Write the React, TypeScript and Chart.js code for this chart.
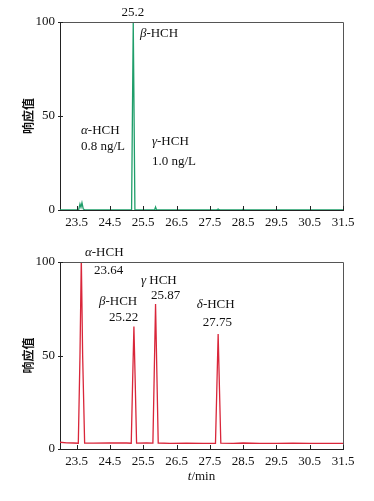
import React, { useEffect, useRef } from "react";
import { Chart, registerables } from "chart.js";

Chart.register(...registerables);

// ---- data ----
const xTickValues = [23.5, 24.5, 25.5, 26.5, 27.5, 28.5, 29.5, 30.5, 31.5];
const yTickValues = [0, 50, 100];
const xMin = 23.0;
const xMax = 31.5;

// Top chromatogram (green)
const topTimes = [23.0, 23.5, 23.56, 23.6, 23.63, 23.66, 23.7, 23.76, 25.1, 25.15, 25.2, 25.25, 25.31, 25.8, 25.84, 25.87, 25.9, 25.95, 27.7, 27.75, 27.8, 28.45, 28.5, 28.55, 31.5];
const topValues = [0, 0, 0, 3.2, 1.5, 3.8, 0.5, 0, 0, 0, 100, 0, 0, 0, 0, 1.6, 0, 0, 0, 0.5, 0, 0, 0.4, 0, 0];

// Bottom chromatogram (red)
const bottomTimes = [23.0, 23.2, 23.4, 23.55, 23.6, 23.64, 23.68, 23.74, 24.0, 24.5, 25.0, 25.14, 25.18, 25.22, 25.26, 25.3, 25.6, 25.79, 25.83, 25.87, 25.91, 25.95, 26.3, 26.8, 27.3, 27.67, 27.71, 27.75, 27.79, 27.83, 28.2, 28.5, 29.0, 29.5, 30.0, 30.5, 31.0, 31.5];
const bottomValues = [3.6, 3.3, 3.2, 3.1, 50, 102, 50, 3.2, 3.1, 3.3, 3.2, 3.1, 35, 65.5, 35, 3.1, 3.2, 3.1, 40, 77.5, 40, 3.2, 3.0, 3.1, 3.0, 3.0, 32, 61.5, 32, 3.1, 3.0, 3.2, 3.0, 3.0, 3.1, 3.0, 3.0, 3.0];

// ---- annotations (segments: [text, italic]) ----
type Seg = [string, boolean];
type Note = { segs: Seg[]; x: number; y: number; align: "left" | "center" };

const topNotes: Note[] = [
  { segs: [["25.2", false]], x: 25.19, y: 104.8, align: "center" },
  { segs: [["β", true], ["-HCH", false]], x: 25.4, y: 94.1, align: "left" },
  { segs: [["α", true], ["-HCH", false]], x: 23.63, y: 42, align: "left" },
  { segs: [["0.8 ng/L", false]], x: 23.63, y: 33.5, align: "left" },
  { segs: [["γ", true], ["-HCH", false]], x: 25.76, y: 36.2, align: "left" },
  { segs: [["1.0 ng/L", false]], x: 25.76, y: 25.5, align: "left" },
];

const bottomNotes: Note[] = [
  { segs: [["α", true], ["-HCH", false]], x: 23.75, y: 104.8, align: "left" },
  { segs: [["23.64", false]], x: 24.02, y: 95.6, align: "left" },
  { segs: [["β", true], ["-HCH", false]], x: 24.17, y: 78.7, align: "left" },
  { segs: [["25.22", false]], x: 24.47, y: 70.5, align: "left" },
  { segs: [["γ", true], [" HCH", false]], x: 25.43, y: 90.3, align: "left" },
  { segs: [["25.87", false]], x: 25.73, y: 82.3, align: "left" },
  { segs: [["δ", true], ["-HCH", false]], x: 27.11, y: 77, align: "left" },
  { segs: [["27.75", false]], x: 27.29, y: 67.5, align: "left" },
];

const SERIF = '"Liberation Serif", "Times New Roman", serif';
const CJK = '"Noto Sans CJK SC", sans-serif';

function makeChart(
  canvas: HTMLCanvasElement,
  times: number[],
  values: number[],
  color: string,
  notes: Note[],
  pad: { top: number; right: number },
  leftW: number,
  bottomH: number,
  showXTitle: boolean
) {
  const overlay = {
    id: "overlay",
    afterDraw(chart: any) {
      const ctx = chart.ctx as CanvasRenderingContext2D;
      const { left, right, top, bottom } = chart.chartArea;
      const xs = chart.scales.x;
      const ys = chart.scales.y;
      ctx.save();
      // frame top/right
      ctx.strokeStyle = "#555";
      ctx.lineWidth = 1;
      ctx.beginPath();
      ctx.moveTo(left, top + 0.5);
      ctx.lineTo(right + 0.5, top + 0.5);
      ctx.lineTo(right + 0.5, bottom);
      ctx.stroke();
      // inner ticks
      ctx.strokeStyle = "#222";
      ctx.beginPath();
      xTickValues.forEach((v) => {
        const px = Math.round(xs.getPixelForValue(v)) + 0.5;
        ctx.moveTo(px, bottom);
        ctx.lineTo(px, bottom - 4);
      });
      yTickValues.forEach((v) => {
        const py = Math.round(ys.getPixelForValue(v)) + 0.5;
        ctx.moveTo(left - 2, py);
        ctx.lineTo(left + 3, py);
      });
      ctx.stroke();
      // annotations
      ctx.fillStyle = "#111";
      ctx.textBaseline = "middle";
      notes.forEach((n) => {
        const fonts = n.segs.map(([, it]) => (it ? "italic " : "") + "13px " + SERIF);
        let total = 0;
        const widths = n.segs.map(([t], i) => {
          ctx.font = fonts[i];
          const w = ctx.measureText(t).width;
          total += w;
          return w;
        });
        let x = xs.getPixelForValue(n.x);
        if (n.align === "center") x -= total / 2;
        const y = ys.getPixelForValue(n.y);
        n.segs.forEach(([t], i) => {
          ctx.font = fonts[i];
          ctx.textAlign = "left";
          ctx.fillText(t, x, y);
          x += widths[i];
        });
      });
      // y title
      ctx.save();
      ctx.translate(28, (top + bottom) / 2);
      ctx.rotate(-Math.PI / 2);
      ctx.font = "bold 12px " + CJK;
      ctx.textAlign = "center";
      ctx.textBaseline = "middle";
      ctx.fillStyle = "#111";
      ctx.fillText("响应值", 0, 0);
      ctx.restore();
      // x title
      if (showXTitle) {
        const cx = (left + right) / 2;
        const y = bottom + 28;
        ctx.font = "italic 13px " + SERIF;
        const w1 = ctx.measureText("t").width;
        ctx.font = "13px " + SERIF;
        const w2 = ctx.measureText("/min").width;
        let x = cx - (w1 + w2) / 2;
        ctx.textAlign = "left";
        ctx.font = "italic 13px " + SERIF;
        ctx.fillText("t", x, y);
        ctx.font = "13px " + SERIF;
        ctx.fillText("/min", x + w1, y);
      }
      ctx.restore();
    },
  };

  return new Chart(canvas, {
    type: "line",
    data: {
      datasets: [
        {
          data: times.map((t, i) => ({ x: t, y: values[i] })),
          borderColor: color,
          borderWidth: 1.3,
          pointRadius: 0,
          tension: 0,
          fill: false,
        },
      ],
    },
    options: {
      animation: false,
      responsive: false,
      maintainAspectRatio: false,
      layout: { padding: { top: pad.top, right: pad.right, left: 0, bottom: 0 } },
      plugins: { legend: { display: false }, tooltip: { enabled: false } },
      scales: {
        x: {
          type: "linear",
          min: xMin,
          max: xMax,
          afterBuildTicks: (axis: any) => {
            axis.ticks = xTickValues.map((v) => ({ value: v }));
          },
          afterFit: (axis: any) => {
            axis.height = bottomH;
          },
          grid: { display: false, drawTicks: false },
          border: { display: true, color: "#222", width: 1 },
          ticks: {
            padding: 5,
            maxRotation: 0,
            autoSkip: false,
            color: "#111",
            font: { family: SERIF, size: 13 },
            callback: (v: any) => Number(v).toFixed(1),
          },
        },
        y: {
          type: "linear",
          min: 0,
          max: 100,
          afterBuildTicks: (axis: any) => {
            axis.ticks = yTickValues.map((v) => ({ value: v }));
          },
          afterFit: (axis: any) => {
            axis.width = leftW;
          },
          grid: { display: false, drawTicks: false },
          border: { display: true, color: "#222", width: 1 },
          ticks: {
            padding: 5,
            color: "#111",
            font: { family: SERIF, size: 13 },
            callback: (v: any) => String(v),
          },
        },
      },
    },
    plugins: [overlay],
  } as any);
}

export default function App() {
  const topRef = useRef<HTMLCanvasElement>(null);
  const botRef = useRef<HTMLCanvasElement>(null);

  useEffect(() => {
    const c1 = makeChart(topRef.current!, topTimes, topValues, "#1f9e6a", topNotes, { top: 22, right: 31 }, 60, 20, false);
    const c2 = makeChart(botRef.current!, bottomTimes, bottomValues, "#d9263a", bottomNotes, { top: 32, right: 31 }, 60, 52, true);
    return () => {
      c1.destroy();
      c2.destroy();
    };
  }, []);

  return (
    <div style={{ position: "absolute", left: 0, top: 0, width: 374, height: 501, background: "#fff" }}>
      <canvas ref={topRef} width={374} height={230} style={{ position: "absolute", left: 0, top: 0, width: 374, height: 230 }} />
      <canvas ref={botRef} width={374} height={271} style={{ position: "absolute", left: 0, top: 230, width: 374, height: 271 }} />
    </div>
  );
}
